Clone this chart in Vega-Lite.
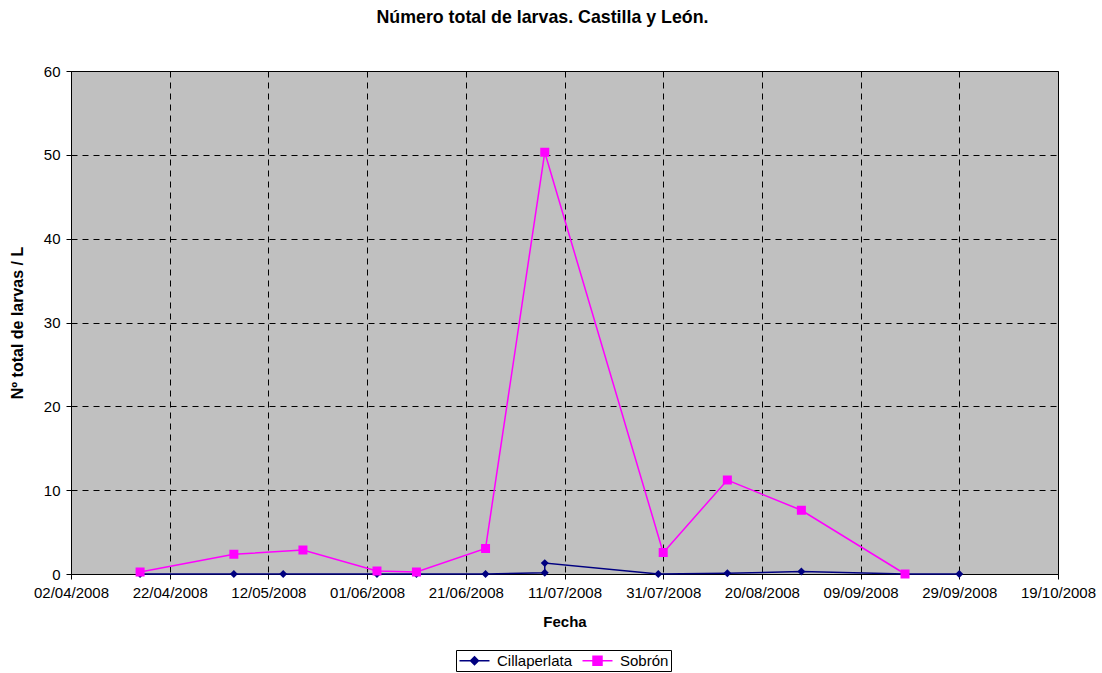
{
  "$schema": "https://vega.github.io/schema/vega-lite/v6.json",
  "width": 987,
  "height": 503,
  "autosize": {"type": "none"},
  "padding": {"left": 71, "top": 71, "right": 44, "bottom": 99},
  "background": "white",
  "title": {
    "text": "Número total de larvas. Castilla y León.",
    "font": "Liberation Sans",
    "fontSize": 17.8,
    "fontWeight": "bold",
    "color": "black",
    "anchor": "middle",
    "dx": -22,
    "offset": 37
  },
  "config": {
    "view": {"fill": "#C0C0C0", "stroke": "black", "strokeWidth": 1},
    "font": "Liberation Sans"
  },
  "data": {
    "values": [
      {"fecha": "2008-04-16", "serie": "Cillaperlata", "valor": 0},
      {"fecha": "2008-05-05", "serie": "Cillaperlata", "valor": 0},
      {"fecha": "2008-05-15", "serie": "Cillaperlata", "valor": 0},
      {"fecha": "2008-06-03", "serie": "Cillaperlata", "valor": 0},
      {"fecha": "2008-06-11", "serie": "Cillaperlata", "valor": 0},
      {"fecha": "2008-06-25", "serie": "Cillaperlata", "valor": 0},
      {"fecha": "2008-07-07", "serie": "Cillaperlata", "valor": 0.15},
      {"fecha": "2008-07-07", "serie": "Cillaperlata", "valor": 1.3},
      {"fecha": "2008-07-30", "serie": "Cillaperlata", "valor": 0},
      {"fecha": "2008-08-13", "serie": "Cillaperlata", "valor": 0.08},
      {"fecha": "2008-08-28", "serie": "Cillaperlata", "valor": 0.3},
      {"fecha": "2008-09-18", "serie": "Cillaperlata", "valor": 0},
      {"fecha": "2008-09-29", "serie": "Cillaperlata", "valor": 0},
      {"fecha": "2008-04-16", "serie": "Sobrón", "valor": 0.25},
      {"fecha": "2008-05-05", "serie": "Sobrón", "valor": 2.35},
      {"fecha": "2008-05-19", "serie": "Sobrón", "valor": 2.85},
      {"fecha": "2008-06-03", "serie": "Sobrón", "valor": 0.35},
      {"fecha": "2008-06-11", "serie": "Sobrón", "valor": 0.25},
      {"fecha": "2008-06-25", "serie": "Sobrón", "valor": 3.05},
      {"fecha": "2008-07-07", "serie": "Sobrón", "valor": 50.3},
      {"fecha": "2008-07-31", "serie": "Sobrón", "valor": 2.55},
      {"fecha": "2008-08-13", "serie": "Sobrón", "valor": 11.2},
      {"fecha": "2008-08-28", "serie": "Sobrón", "valor": 7.6},
      {"fecha": "2008-09-18", "serie": "Sobrón", "valor": 0}
    ]
  },
  "encoding": {
    "x": {
      "field": "fecha",
      "type": "temporal",
      "title": "Fecha",
      "scale": {"type": "utc", "domain": [{"year": 2008, "month": 4, "date": 2, "utc": true}, {"year": 2008, "month": 10, "date": 19, "utc": true}]},
      "axis": {
        "values": [
          {"year": 2008, "month": 4, "date": 2, "utc": true},
          {"year": 2008, "month": 4, "date": 22, "utc": true},
          {"year": 2008, "month": 5, "date": 12, "utc": true},
          {"year": 2008, "month": 6, "date": 1, "utc": true},
          {"year": 2008, "month": 6, "date": 21, "utc": true},
          {"year": 2008, "month": 7, "date": 11, "utc": true},
          {"year": 2008, "month": 7, "date": 31, "utc": true},
          {"year": 2008, "month": 8, "date": 20, "utc": true},
          {"year": 2008, "month": 9, "date": 9, "utc": true},
          {"year": 2008, "month": 9, "date": 29, "utc": true},
          {"year": 2008, "month": 10, "date": 19, "utc": true}
        ],
        "labelExpr": "utcFormat(datum.value, '%d/%m/%Y')",
        "labelFont": "Liberation Sans",
        "labelFontSize": 15,
        "labelColor": "black",
        "labelPadding": 6,
        "labelFlush": false,
        "labelOverlap": false,
        "titleFont": "Liberation Sans",
        "titleFontSize": 15,
        "titleFontWeight": "bold",
        "titleColor": "black",
        "titlePadding": 14,
        "domainColor": "black",
        "tickColor": "black",
        "tickSize": 5,
        "grid": true,
        "gridColor": "black",
        "gridDash": [6, 5],
        "gridOpacity": 1,
        "gridWidth": 1
      }
    },
    "y": {
      "field": "valor",
      "type": "quantitative",
      "title": "Nº total de larvas / L",
      "scale": {"domain": [0, 60], "nice": false},
      "axis": {
        "values": [0, 10, 20, 30, 40, 50, 60],
        "labelFont": "Liberation Sans",
        "labelFontSize": 15,
        "labelColor": "black",
        "labelPadding": 6,
        "titleFont": "Liberation Sans",
        "titleFontSize": 16,
        "titleFontWeight": "bold",
        "titleColor": "black",
        "titlePadding": 18,
        "domainColor": "black",
        "tickColor": "black",
        "tickSize": 5,
        "grid": true,
        "gridColor": "black",
        "gridDash": [6, 5],
        "gridOpacity": 1,
        "gridWidth": 1
      }
    },
    "color": {
      "field": "serie",
      "type": "nominal",
      "scale": {"domain": ["Cillaperlata", "Sobrón"], "range": ["#000080", "#FF00FF"]},
      "legend": {
        "title": null,
        "orient": "none",
        "direction": "horizontal",
        "legendX": 385,
        "legendY": 579,
        "strokeColor": "black",
        "padding": 2,
        "symbolSize": 225,
        "symbolOffset": 8,
        "symbolStrokeWidth": 1.5,
        "symbolOpacity": 1,
        "labelFont": "Liberation Sans",
        "labelFontSize": 15,
        "labelColor": "black",
        "columnPadding": 6,
        "labelOffset": 14,
        "encode": {
          "symbols": {"update": {"stroke": {"scale": "color", "field": "value"}, "strokeWidth": {"value": 1.5}}}
        }
      }
    }
  },
  "layer": [
    {
      "mark": {"type": "line", "strokeWidth": 1.5},
      "encoding": {
        "order": {"value": null}
      }
    },
    {
      "mark": {"type": "point", "filled": true, "opacity": 1, "size": 225, "strokeWidth": 0},
      "encoding": {
        "shape": {
          "field": "serie",
          "type": "nominal",
          "scale": {"domain": ["Cillaperlata", "Sobrón"], "range": ["M-2,0H2M0,-0.53L0.53,0L0,0.53L-0.53,0Z", "M-2,0H2M-0.6,-0.6H0.6V0.6H-0.6Z"]}
        }
      }
    }
  ]
}
